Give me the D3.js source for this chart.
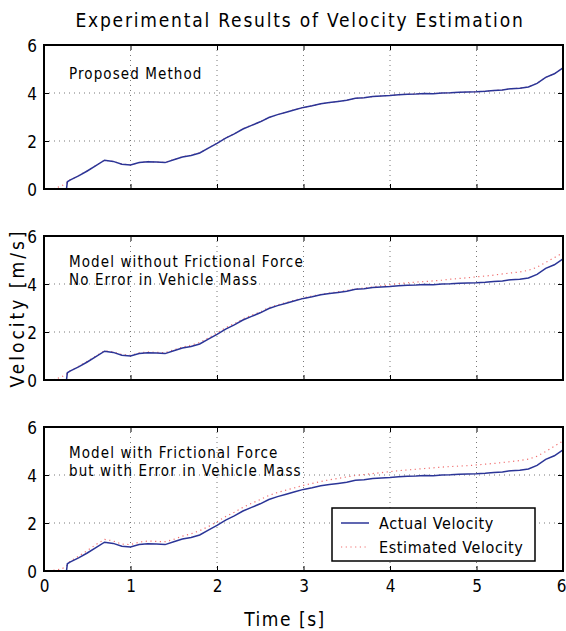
<!DOCTYPE html>
<html>
<head>
<meta charset="utf-8">
<script src="https://cdn.jsdelivr.net/npm/d3@7"></script>
<style>
  body { margin: 0; background: #fff; }
  text { font-family: "Liberation Sans Narrow", "DejaVu Sans Condensed", "Arial Narrow", sans-serif; fill: #000; }
</style>
</head>
<body>
<svg id="mySvg"></svg>
<script>
const width = 566;
const height = 631;

// time axis [s]
const times = [0, 0.1, 0.2, 0.26, 0.27, 0.3, 0.4, 0.5, 0.6, 0.7,
  0.8, 0.9, 1.0, 1.1, 1.2, 1.3, 1.4, 1.5, 1.6, 1.7,
  1.8, 1.9, 2.0, 2.1, 2.2, 2.3, 2.4, 2.5, 2.6, 2.7,
  2.8, 2.9, 3.0, 3.1, 3.2, 3.3, 3.4, 3.5, 3.6, 3.7,
  3.8, 3.9, 4.0, 4.1, 4.2, 4.3, 4.4, 4.5, 4.6, 4.7,
  4.8, 4.9, 5.0, 5.1, 5.2, 5.3, 5.4, 5.5, 5.6, 5.7,
  5.8, 5.9, 6.0];

// actual velocity [m/s] (same in all three panels)
const actualV = [0, 0, 0, 0, 0.3, 0.37, 0.55, 0.75, 0.97, 1.2,
  1.15, 1.03, 1.0, 1.1, 1.14, 1.12, 1.1, 1.22, 1.33, 1.4,
  1.5, 1.7, 1.9, 2.12, 2.3, 2.5, 2.65, 2.8, 2.98, 3.1,
  3.2, 3.3, 3.4, 3.47, 3.55, 3.6, 3.65, 3.7, 3.78, 3.8,
  3.85, 3.88, 3.9, 3.93, 3.95, 3.96, 3.98, 3.97, 4.0, 4.01,
  4.03, 4.04, 4.05, 4.07, 4.1, 4.13, 4.18, 4.2, 4.25, 4.4,
  4.65, 4.8, 5.05];

// estimated velocity, proposed method
const estProposed = [0, 0, 0.12, 0.25, 0.3, 0.38, 0.56, 0.76, 0.98, 1.2,
  1.15, 1.04, 1.0, 1.1, 1.15, 1.12, 1.11, 1.23, 1.34, 1.41,
  1.51, 1.71, 1.91, 2.13, 2.3, 2.51, 2.66, 2.8, 2.98, 3.1,
  3.2, 3.31, 3.4, 3.47, 3.55, 3.6, 3.65, 3.7, 3.78, 3.8,
  3.85, 3.88, 3.9, 3.93, 3.95, 3.96, 3.98, 3.98, 4.0, 4.01,
  4.03, 4.04, 4.05, 4.07, 4.1, 4.13, 4.18, 4.2, 4.25, 4.4,
  4.65, 4.8, 5.06];

// estimated velocity, model without frictional force
const estNoFriction = [0, 0, 0.12, 0.25, 0.3, 0.38, 0.57, 0.78, 1.0, 1.22,
  1.17, 1.06, 1.03, 1.13, 1.17, 1.15, 1.14, 1.26, 1.37, 1.45,
  1.56, 1.76, 1.96, 2.18, 2.35, 2.55, 2.7, 2.84, 3.02, 3.13,
  3.23, 3.33, 3.42, 3.5, 3.57, 3.62, 3.68, 3.73, 3.8, 3.83,
  3.88, 3.92, 3.97, 4.02, 4.05, 4.08, 4.1, 4.13, 4.16, 4.2,
  4.23, 4.26, 4.3, 4.33, 4.37, 4.42, 4.46, 4.5, 4.57, 4.7,
  4.9, 5.1, 5.3];

// estimated velocity, model with frictional force but mass error
const estMassError = [0, 0.02, 0.08, 0.2, 0.3, 0.4, 0.62, 0.85, 1.1, 1.32,
  1.25, 1.12, 1.1, 1.2, 1.25, 1.23, 1.22, 1.32, 1.45, 1.55,
  1.68, 1.85, 2.05, 2.27, 2.45, 2.65, 2.82, 2.98, 3.15, 3.27,
  3.37, 3.47, 3.57, 3.65, 3.73, 3.8, 3.86, 3.92, 3.98, 4.02,
  4.06, 4.1, 4.14, 4.18, 4.21, 4.24, 4.27, 4.3, 4.33, 4.35,
  4.37, 4.39, 4.42, 4.45, 4.48, 4.52, 4.56, 4.6, 4.66, 4.78,
  4.98, 5.2, 5.42];

const xTicks = [0, 1, 2, 3, 4, 5, 6];
const yTicks = [0, 2, 4, 6];

const panelNotes = [
  ["Proposed Method"],
  ["Model without Frictional Force", "No Error in Vehicle Mass"],
  ["Model with Frictional Force", "but with Error in Vehicle Mass"]
];
const panelEstimates = [estProposed, estNoFriction, estMassError];
const legendLabels = ["Actual Velocity", "Estimated Velocity"];

const blue = "#2b3597";
const red = "#f07070";

const plotLeft = 44, plotRight = 563;
const panelTops = [45, 236, 427];
const panelH = 144;

const svg = d3.select("#mySvg").attr("width", width).attr("height", height);
svg.append("rect").attr("width", width).attr("height", height).attr("fill", "#fff");

const x = d3.scaleLinear().domain([0, 6]).range([plotLeft, plotRight]);

svg.append("text")
  .attr("x", 300).attr("y", 27)
  .attr("text-anchor", "middle")
  .attr("font-size", 19)
  .attr("letter-spacing", 1.8)
  .text("Experimental Results of Velocity Estimation");

panelTops.forEach((top, p) => {
  const y = d3.scaleLinear().domain([0, 6]).range([top + panelH, top]);
  const g = svg.append("g");

  // dotted grid
  g.selectAll(".gx").data(xTicks.slice(1, -1)).enter().append("line")
    .attr("x1", d => x(d)).attr("x2", d => x(d))
    .attr("y1", top).attr("y2", top + panelH)
    .attr("stroke", "#555").attr("stroke-width", 0.8).attr("stroke-dasharray", "1,4");
  g.selectAll(".gy").data(yTicks.slice(1, -1)).enter().append("line")
    .attr("x1", plotLeft).attr("x2", plotRight)
    .attr("y1", d => y(d)).attr("y2", d => y(d))
    .attr("stroke", "#555").attr("stroke-width", 0.8).attr("stroke-dasharray", "1,4");

  // axes with inward ticks
  const ax = d3.axisBottom(x).tickValues(xTicks).tickSizeInner(-5).tickSizeOuter(0)
    .tickFormat(p === 2 ? d3.format("d") : "");
  const axB = g.append("g").attr("transform", `translate(0,${top + panelH})`).call(ax);
  const axT = g.append("g").attr("transform", `translate(0,${top})`)
    .call(d3.axisTop(x).tickValues(xTicks).tickSizeInner(-5).tickSizeOuter(0).tickFormat(""));
  const axL = g.append("g").attr("transform", `translate(${plotLeft},0)`)
    .call(d3.axisLeft(y).tickValues(yTicks).tickSizeInner(-5).tickSizeOuter(0).tickFormat(d3.format("d")));
  const axR = g.append("g").attr("transform", `translate(${plotRight},0)`)
    .call(d3.axisRight(y).tickValues(yTicks).tickSizeInner(-5).tickSizeOuter(0).tickFormat(""));
  [axB, axT, axL, axR].forEach(a => {
    a.select(".domain").remove();
    a.selectAll("line").attr("stroke", "#000").attr("stroke-width", 1);
    a.selectAll("text").attr("font-size", 17).attr("fill", "#000")
      .style("font-family", '"Liberation Sans Narrow", "DejaVu Sans Condensed", sans-serif');
  });
  axL.selectAll("text").attr("x", -7).attr("dy", "0.36em");
  axB.selectAll("text").attr("y", 9).attr("dx", d => (d === 6 ? -2 : 0));

  // series
  const est = panelEstimates[p];
  const line = d3.line().x((d, i) => x(times[i])).y(d => y(d));
  g.append("path").datum(est).attr("d", line)
    .attr("fill", "none").attr("stroke", red).attr("stroke-width", 1.2)
    .attr("stroke-dasharray", "1.2,3.5");
  g.append("path").datum(actualV).attr("d", line)
    .attr("fill", "none").attr("stroke", blue).attr("stroke-width", 1.5);

  // frame
  g.append("rect").attr("x", plotLeft).attr("y", top)
    .attr("width", plotRight - plotLeft).attr("height", panelH)
    .attr("fill", "none").attr("stroke", "#000").attr("stroke-width", 2);

  // annotation
  panelNotes[p].forEach((t, k) => {
    g.append("text")
      .attr("x", 69).attr("y", top + (p === 0 ? 34 : 31) + k * 18)
      .attr("font-size", 15).attr("letter-spacing", 1.1)
      .text(t);
  });

  // legend in last panel
  if (p === 2) {
    const lg = g.append("g");
    lg.append("rect").attr("x", 332).attr("y", 508).attr("width", 203).attr("height", 53)
      .attr("fill", "#fff").attr("stroke", "#000").attr("stroke-width", 1.5);
    const styles = [{ c: blue, w: 1.5, dash: null }, { c: red, w: 1.2, dash: "1.2,3.5" }];
    legendLabels.forEach((lab, k) => {
      const ly = 523 + k * 24;
      lg.append("line").attr("x1", 341).attr("x2", 369).attr("y1", ly).attr("y2", ly)
        .attr("stroke", styles[k].c).attr("stroke-width", styles[k].w)
        .attr("stroke-dasharray", styles[k].dash);
      lg.append("text").attr("x", 379).attr("y", ly + 6)
        .attr("font-size", 16).attr("letter-spacing", 0.6).text(lab);
    });
  }
});

// axis titles
svg.append("text")
  .attr("transform", "translate(24,308) rotate(-90)")
  .attr("text-anchor", "middle")
  .attr("font-size", 19).attr("letter-spacing", 3)
  .text("Velocity [m/s]");

svg.append("text")
  .attr("x", 285).attr("y", 626)
  .attr("text-anchor", "middle")
  .attr("font-size", 19).attr("letter-spacing", 1.5)
  .text("Time [s]");
</script>
</body>
</html>
